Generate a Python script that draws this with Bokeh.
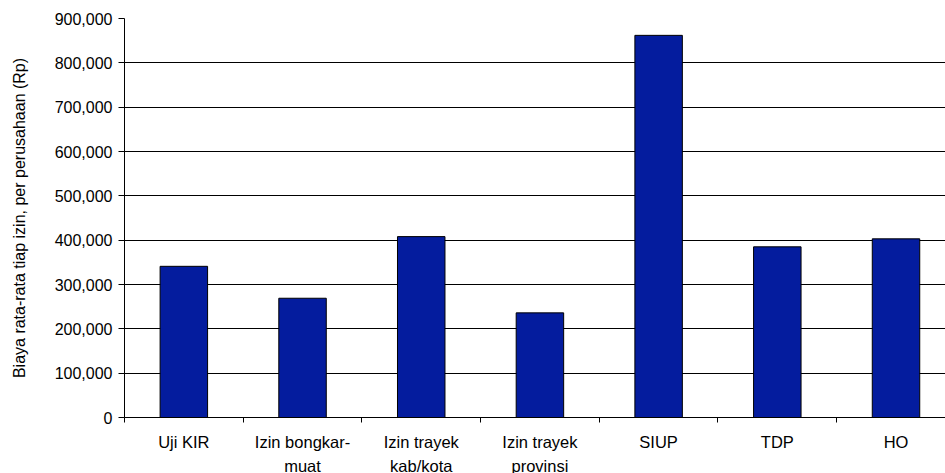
from bokeh.plotting import figure
from bokeh.models import FixedTicker, NumeralTickFormatter, Range1d
from bokeh.embed import file_html
from bokeh.resources import INLINE

# Average cost per permit, per company (Rp)
categories = ["Uji KIR", "Izin bongkar-\nmuat", "Izin trayek\nkab/kota",
              "Izin trayek\nprovinsi", "SIUP", "TDP", "HO"]
costs = [341000, 269000, 408000, 236000, 862000, 385000, 403000]
y_ticks = [0, 100000, 200000, 300000, 400000, 500000, 600000, 700000, 800000, 900000]

FONT = "Liberation Sans"
xs = list(range(len(categories)))

p = figure(frame_width=821, frame_height=399, output_backend="svg", toolbar_location=None,
           x_range=Range1d(-0.5, 6.417), y_range=Range1d(0, 900000),
           min_border_left=124, min_border_right=0, min_border_top=18,
           min_border_bottom=0)
p.outline_line_color = None
p.background_fill_color = "white"
p.border_fill_color = "white"

p.vbar(x=xs, top=costs, width=0.4, bottom=0,
       fill_color="#041c9e", line_color="#000000", line_width=1)

# y axis
p.yaxis.ticker = FixedTicker(ticks=y_ticks)
p.yaxis.formatter = NumeralTickFormatter(format="0,0")
p.yaxis.axis_line_color = "#000000"
p.yaxis.major_tick_line_color = "#000000"
p.yaxis.major_tick_out = 6
p.yaxis.major_tick_in = 0
p.yaxis.minor_tick_line_color = None
p.yaxis.major_label_standoff = 6
p.yaxis.major_label_text_font = FONT
p.yaxis.major_label_text_font_size = "16px"
p.yaxis.major_label_text_color = "#000000"
p.yaxis.axis_label = "Biaya rata-rata tiap izin, per perusahaan (Rp)"
p.yaxis.axis_label_text_font = FONT
p.yaxis.axis_label_text_font_size = "16px"
p.yaxis.axis_label_text_font_style = "normal"
p.yaxis.axis_label_text_color = "#000000"
p.yaxis.axis_label_standoff = 24

# x axis: labels centred under bars, tick marks between categories
p.xaxis.ticker = FixedTicker(ticks=xs, minor_ticks=[i - 0.5 for i in range(len(categories) + 1)])
p.xaxis.major_label_overrides = {i: c for i, c in zip(xs, categories)}
p.xaxis.major_tick_line_color = None
p.xaxis.major_tick_out = 0
p.xaxis.major_tick_in = 0
p.xaxis.minor_tick_line_color = "#000000"
p.xaxis.minor_tick_out = 5
p.xaxis.minor_tick_in = 0
p.xaxis.axis_line_color = "#000000"
p.xaxis.major_label_standoff = 10
p.xaxis.major_label_text_font = FONT
p.xaxis.major_label_text_font_size = "16.5px"
p.xaxis.major_label_text_color = "#000000"
p.xaxis.major_label_text_line_height = 1.35

p.xgrid.grid_line_color = None
p.ygrid.ticker = FixedTicker(ticks=y_ticks)
p.ygrid.grid_line_color = "#000000"
p.ygrid.grid_line_width = 1

open("out.html", "w").write(file_html(p, INLINE))
